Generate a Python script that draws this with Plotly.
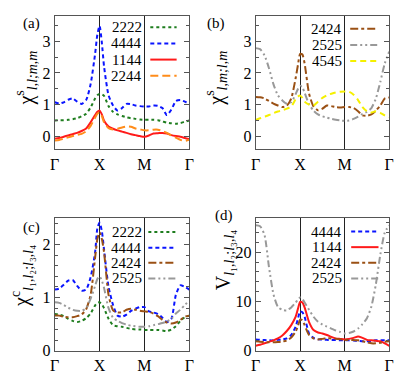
import plotly.graph_objects as go
from plotly.subplots import make_subplots

W, H = 403, 389

# path Gamma - X - M - Gamma, X at 1, M at 2
k = [0, .1, .2, .3, .4, .5, .6, .7, .8, .9, .95, 1.0, 1.05, 1.1, 1.2, 1.3, 1.4, 1.5,
     1.6, 1.7, 1.8, 1.9, 2.0, 2.1, 2.2, 2.3, 2.4, 2.5, 2.6, 2.7, 2.8, 2.9, 3.0]
kpath_ticks = [0, 1, 2, 3]
kpath_labels = ["Γ", "X", "M", "Γ"]

# (a) chi^s_{l,l;m,m}
a_2222 = [0.51, 0.52, 0.52, 0.53, 0.55, 0.58, 0.64, 0.72, 0.92, 1.2, 1.3, 1.34, 1.33, 1.28, 0.96, 0.78, 0.7,
          0.65, 0.61, 0.58, 0.56, 0.54, 0.53, 0.53, 0.53, 0.52, 0.48, 0.44, 0.42, 0.41, 0.43, 0.47, 0.51]
a_4444 = [1.08, 1.04, 1.08, 1.16, 1.2, 1.1, 1.03, 1.15, 1.65, 2.6, 3.2, 3.48, 2.95, 2.2, 1.3, 0.98, 0.82,
          0.9, 1.03, 1.02, 0.98, 0.96, 0.95, 0.95, 0.98, 0.97, 0.9, 0.68, 0.85, 1.12, 1.15, 1.1, 1.03]
a_1144 = [-0.06, -0.04, 0.0, 0.04, 0.08, 0.12, 0.18, 0.26, 0.45, 0.68, 0.78, 0.82, 0.7, 0.5, 0.32, 0.25, 0.2,
          0.16, 0.12, 0.08, 0.05, 0.02, 0.0, 0.04, 0.1, 0.11, 0.12, 0.1, 0.05, 0.02, 0.0, -0.04, -0.08]
a_2244 = [-0.12, -0.1, -0.06, -0.02, 0.02, 0.06, 0.09, 0.17, 0.34, 0.6, 0.72, 0.77, 0.65, 0.45, 0.27, 0.23, 0.25,
          0.29, 0.32, 0.31, 0.26, 0.23, 0.2, 0.2, 0.22, 0.22, 0.18, 0.12, 0.04, -0.03, -0.1, -0.13, -0.1]

# (b) chi^s_{l,m;l,m}
b_2424 = [1.25, 1.24, 1.2, 1.12, 1.04, 0.98, 0.93, 0.97, 1.2, 1.85, 2.25, 2.6, 2.58, 2.3, 1.35, 0.95, 0.83,
          0.88, 0.98, 0.96, 0.93, 0.92, 0.93, 0.93, 0.9, 0.8, 0.67, 0.66, 0.7, 0.82, 0.98, 1.2, 1.23]
b_2525 = [2.78, 2.75, 2.55, 2.15, 1.65, 1.3, 1.14, 1.04, 1.08, 1.34, 1.5, 1.6, 1.55, 1.38, 1.02, 0.82, 0.7,
          0.64, 0.6, 0.56, 0.53, 0.51, 0.5, 0.51, 0.56, 0.63, 0.72, 0.78, 0.9, 1.2, 1.72, 2.3, 2.67]
b_4545 = [0.53, 0.58, 0.63, 0.68, 0.74, 0.79, 0.83, 0.88, 0.95, 1.18, 1.26, 1.29, 1.22, 1.1, 1.01, 0.98, 1.1,
          1.22, 1.3, 1.35, 1.39, 1.41, 1.42, 1.41, 1.32, 1.15, 0.93, 0.8, 0.76, 0.8, 0.75, 0.67, 0.62]

# (c) chi^c
c_2222 = [0.69, 0.68, 0.65, 0.6, 0.56, 0.54, 0.56, 0.61, 0.7, 0.85, 0.9, 0.91, 0.87, 0.8, 0.6, 0.48, 0.46,
          0.45, 0.43, 0.41, 0.4, 0.4, 0.39, 0.39, 0.39, 0.39, 0.38, 0.37, 0.4, 0.46, 0.56, 0.63, 0.66]
c_4444 = [1.15, 1.17, 1.24, 1.32, 1.33, 1.22, 1.13, 1.15, 1.38, 1.85, 2.3, 2.41, 2.25, 1.9, 1.2, 0.86, 0.66,
          0.64, 0.68, 0.75, 0.79, 0.82, 0.82, 0.74, 0.72, 0.69, 0.62, 0.54, 0.6, 1.05, 1.23, 1.2, 1.15]
c_2424 = [0.66, 0.66, 0.64, 0.63, 0.63, 0.65, 0.68, 0.78, 1.05, 1.75, 2.1, 2.23, 2.1, 1.85, 1.05, 0.76, 0.72,
          0.72, 0.77, 0.79, 0.77, 0.75, 0.74, 0.73, 0.7, 0.65, 0.58, 0.53, 0.51, 0.53, 0.58, 0.64, 0.66]
c_2525 = [0.91, 0.9, 0.86, 0.81, 0.77, 0.75, 0.75, 0.8, 0.98, 1.22, 1.35, 1.4, 1.32, 1.18, 0.8, 0.62, 0.56,
          0.52, 0.49, 0.47, 0.46, 0.45, 0.45, 0.46, 0.48, 0.5, 0.52, 0.55, 0.6, 0.7, 0.77, 0.86, 0.94]

# (d) V
d_4444 = [2.3, 2.2, 2.15, 2.1, 2.1, 2.2, 2.3, 2.5, 3.2, 4.9, 6.5, 8.0, 7.8, 6.9, 3.5, 2.6, 2.3,
          2.25, 2.2, 2.2, 2.15, 2.1, 2.1, 2.1, 2.05, 2.0, 1.9, 1.9, 2.0, 2.1, 2.1, 2.1, 2.1]
d_1144 = [1.0, 1.2, 1.5, 1.8, 2.1, 2.5, 3.1, 4.0, 5.2, 6.9, 8.5, 9.9, 9.8, 8.8, 5.8, 4.2, 3.7,
          3.5, 3.2, 2.8, 2.5, 2.4, 2.3, 2.4, 2.6, 2.9, 2.6, 2.2, 2.1, 2.0, 1.9, 1.5, 1.0]
d_2424 = [1.9, 1.8, 1.75, 1.7, 1.7, 1.75, 1.85, 2.1, 2.7, 3.9, 5.0, 6.3, 6.2, 5.2, 3.2, 2.5, 2.3,
          2.4, 2.5, 2.5, 2.4, 2.3, 2.2, 2.2, 2.15, 2.1, 1.9, 1.7, 1.5, 1.5, 1.6, 1.8, 1.9]
d_2525 = [25.5, 25.3, 23.5, 17.0, 11.5, 8.9, 8.3, 8.2, 8.8, 9.8, 10.4, 10.8, 10.5, 9.8, 8.3, 6.9, 5.9,
          5.3, 4.9, 4.5, 4.1, 3.8, 3.5, 3.6, 3.9, 4.5, 5.4, 6.6, 9.0, 13.5, 19.5, 24.0, 25.5]

green, blue, red, orange = "#1e7d1e", "#0a14ff", "#ff1a1a", "#ff8c1a"
brown, gray, yellow = "#9a5014", "#999999", "#f5f000"
DOT, DASH, SOLID, LDASH = "dot", "4px,3px", "solid", "8px,4px"
DASHDOT, DASHDOTDOT, YDASH = "8px,3px,3px,3px", "7px,3px,2px,3px,2px,3px", "6px,4px"

panels = [
    (1, 1, [("2222", a_2222, green, DOT), ("4444", a_4444, blue, DASH),
            ("1144", a_1144, red, SOLID), ("2244", a_2244, orange, LDASH)]),
    (1, 2, [("2424", b_2424, brown, DASHDOT), ("2525", b_2525, gray, DASHDOTDOT),
            ("4545", b_4545, yellow, YDASH)]),
    (2, 1, [("2222", c_2222, green, DOT), ("4444", c_4444, blue, DASH),
            ("2424", c_2424, brown, DASHDOT), ("2525", c_2525, gray, DASHDOTDOT)]),
    (2, 2, [("4444", d_4444, blue, DASH), ("1144", d_1144, red, SOLID),
            ("2424", d_2424, brown, DASHDOT), ("2525", d_2525, gray, DASHDOTDOT)]),
]

fig = make_subplots(rows=2, cols=2)
for r, c, series in panels:
    for name, y, col, dash in series:
        fig.add_trace(go.Scatter(x=k, y=y, mode="lines", name=name, showlegend=False,
                                 line=dict(color=col, dash=dash, width=2, shape="spline", smoothing=0.6)),
                      row=r, col=c)

def px(x):
    return x / W

def py(y):
    return 1 - y / H

# plot boxes in pixels: left, right, top, bottom
boxes = {(1, 1): (51, 189, 16, 153), (1, 2): (257, 394, 16, 153),
         (2, 1): (51, 189, 223, 359), (2, 2): (257, 394, 223, 359)}
yranges = {(1, 1): [-0.4, 3.8], (1, 2): [-0.4, 3.8], (2, 1): [0, 2.5], (2, 2): [0, 27]}
ydticks = {(1, 1): (1, 0.5), (1, 2): (1, 0.5), (2, 1): (1, 0.2), (2, 2): (10, 2)}

serif = "Liberation Serif, Times New Roman, serif"
for (r, c), (l, rr, t, b) in boxes.items():
    fig.update_xaxes(domain=[px(l), px(rr)], range=[0, 3], tickvals=kpath_ticks, ticktext=kpath_labels,
                     showgrid=True, gridcolor="#222", gridwidth=1, zeroline=False, ticks="",
                     showline=True, linecolor="#555", linewidth=1, mirror=True,
                     ticklabeloverflow="allow",
                     tickfont=dict(family=serif, size=16, color="black"), row=r, col=c)
    dt, mdt = ydticks[(r, c)]
    fig.update_yaxes(domain=[py(b), py(t)], range=yranges[(r, c)], dtick=dt, tick0=0,
                     showgrid=False, zeroline=False, ticks="inside", ticklen=5, tickcolor="#555",
                     showline=True, linecolor="#555", linewidth=1, mirror="ticks",
                     ticklabeloverflow="allow",
                     minor=dict(ticks="inside", ticklen=3, dtick=mdt, tick0=0, tickcolor="#555"),
                     tickfont=dict(family=serif, size=16, color="black"), row=r, col=c)

# legends: text on the left, line sample on the right
legend_pos = {(1, 1): (143, 149, 176, [28, 44.5, 61, 77.5]),
              (1, 2): (348, 354, 382, [29.5, 46, 62.5]),
              (2, 1): (143, 147, 175, [237.5, 253.5, 269, 285]),
              (2, 2): (348, 355, 383, [237, 253, 269, 285])}
shapes, annotations = [], []
for r, c, series in panels:
    tx, s0, s1, rows = legend_pos[(r, c)]
    for (name, y, col, dash), yy in zip(series, rows):
        annotations.append(dict(x=px(tx), y=py(yy), xref="paper", yref="paper", text=name,
                                showarrow=False, xanchor="right", yanchor="middle",
                                font=dict(family=serif, size=15, color="black")))
        shapes.append(dict(type="line", xref="paper", yref="paper", x0=px(s0), x1=px(s1),
                           y0=py(yy), y1=py(yy), line=dict(color=col, dash=dash, width=2)))

# panel labels
for txt, x, y in [("(a)", 16, 13), ("(b)", 216, 13), ("(c)", 16, 233), ("(d)", 225, 221)]:
    annotations.append(dict(x=px(x), y=py(y), xref="paper", yref="paper", text=txt, showarrow=False,
                            font=dict(family=serif, size=15, color="black")))

# y axis titles
ytitles = [("χ<sup>s</sup><sub><i>l,l;m,m</i></sub>", 22, 80),
           ("χ<sup>s</sup><sub><i>l,m;l,m</i></sub>", 217, 80),
           ("χ<sup>c</sup><sub><i>l</i>₁,<i>l</i>₂;<i>l</i>₃,<i>l</i>₄</sub>", 18, 283),
           ("V<sub><i>l</i>₁,<i>l</i>₂;<i>l</i>₃,<i>l</i>₄</sub>", 225, 266)]
for txt, x, y in ytitles:
    annotations.append(dict(x=px(x), y=py(y), xref="paper", yref="paper", text=txt, showarrow=False,
                            textangle=-90, xanchor="center", yanchor="middle",
                            font=dict(family=serif, size=20, color="black")))

fig.update_layout(width=W, height=H, margin=dict(l=0, r=0, t=0, b=0),
                  plot_bgcolor="white", paper_bgcolor="white",
                  shapes=shapes, annotations=annotations, showlegend=False)
# drop the default page margin so the figure sits at the window corner
fig.write_html("out.html", config={"displayModeBar": False},
               post_script="document.body.style.margin='0';")
